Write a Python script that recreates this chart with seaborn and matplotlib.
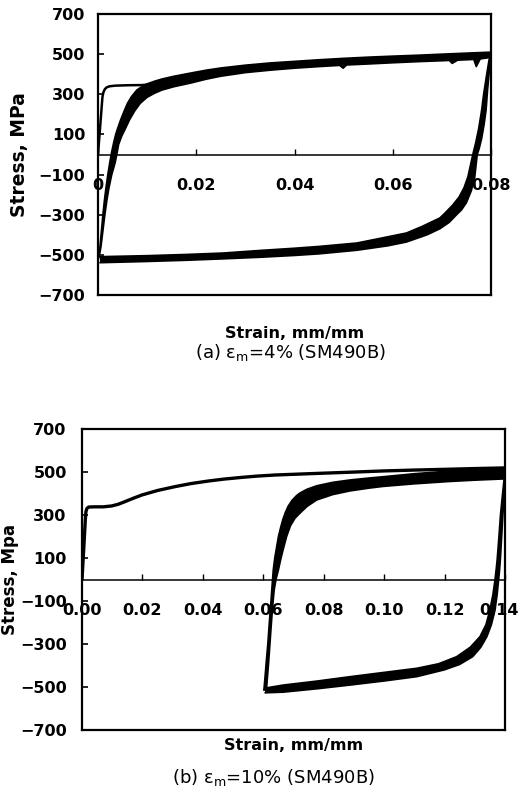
import numpy as np
import pandas as pd
import matplotlib
matplotlib.use("Agg")
import matplotlib.pyplot as plt
import matplotlib.transforms as mtransforms
import seaborn as sns

# ------------------------------------------------------------------
# Panel (a): eps_m = 4 %  (SM490B)
# ------------------------------------------------------------------
a_mono_strain = [0.0000, 0.0003, 0.0006, 0.0009, 0.0011, 0.0014, 0.0018, 0.0024, 0.0035,
                 0.0060, 0.0090, 0.0110]
a_mono_stress = [0, 95, 190, 285, 310, 326, 335, 340, 343,
                 345, 346, 350]

# loading branch (compression end -> tension end), two edges of the cycle band
a_up_outer_strain = [0.0000, 0.0002, 0.0004, 0.0007, 0.0010, 0.0013, 0.0016, 0.0020, 0.0024,
                     0.0028, 0.0032, 0.0036, 0.0040, 0.0046, 0.0053, 0.0060, 0.0068, 0.0079,
                     0.0090, 0.0100, 0.0115, 0.0130, 0.0155, 0.0187, 0.0220, 0.0250, 0.0300,
                     0.0350, 0.0400, 0.0450, 0.0500, 0.0550, 0.0600, 0.0655, 0.0720, 0.0800]
a_up_outer_stress = [-530, -500, -460, -380, -300, -230, -170, -100, -40,
                     15, 60, 100, 130, 172, 215, 255, 288, 321,
                     340, 352, 365, 376, 390, 405, 420, 431, 445,
                     456, 464, 472, 479, 485, 490, 495, 502, 510]
a_up_inner_strain = [0.0800, 0.0778, 0.0770, 0.0765, 0.0760, 0.0732, 0.0721, 0.0715, 0.0710,
                     0.0655, 0.0600, 0.0550, 0.0506, 0.0499, 0.0492, 0.0450, 0.0400, 0.0350,
                     0.0300, 0.0250, 0.0220, 0.0187, 0.0155, 0.0130, 0.0115, 0.0100, 0.0086,
                     0.0075, 0.0064, 0.0055, 0.0048, 0.0042, 0.0039, 0.0035, 0.0028, 0.0022,
                     0.0018, 0.0014, 0.0010, 0.0006, 0.0003, 0.0000]
a_up_inner_stress = [484, 476, 438, 474, 473, 470, 454, 469, 468,
                     463, 457, 451, 446, 430, 444, 438, 430, 420,
                     408, 390, 375, 355, 338, 321, 305, 285, 255,
                     218, 172, 125, 90, 50, 10, -40, -100, -170,
                     -230, -300, -380, -460, -500, -522]

# unloading branch (tension end -> compression end)
a_dn_outer_strain = [0.0800, 0.0799, 0.0796, 0.0793, 0.0790, 0.0786, 0.0781, 0.0776, 0.0772,
                     0.0767, 0.0760, 0.0750, 0.0740, 0.0730, 0.0715, 0.0696, 0.0670, 0.0628,
                     0.0590, 0.0527, 0.0450, 0.0400, 0.0330, 0.0254, 0.0180, 0.0100, 0.0004]
a_dn_outer_stress = [505, 470, 400, 320, 222, 150, 80, 30, 0,
                     -111, -180, -240, -276, -300, -338, -370, -400, -436,
                     -455, -477, -495, -503, -512, -520, -527, -533, -539]
a_dn_inner_strain = [0.0004, 0.0100, 0.0180, 0.0254, 0.0330, 0.0400, 0.0450, 0.0527, 0.0590,
                     0.0628, 0.0660, 0.0696, 0.0705, 0.0722, 0.0735, 0.0745, 0.0753, 0.0758,
                     0.0763, 0.0769, 0.0775, 0.0781, 0.0785, 0.0790, 0.0796, 0.0800]
a_dn_inner_stress = [-509, -504, -498, -491, -478, -467, -458, -441, -410,
                     -391, -358, -316, -295, -252, -212, -166, -111, -55,
                     0, 60, 130, 222, 300, 380, 471, 505]

a_xticks = [0.0, 0.02, 0.04, 0.06, 0.08]
a_xticklabels = ["0", "0.02", "0.04", "0.06", "0.08"]

# ------------------------------------------------------------------
# Panel (b): eps_m = 10 %  (SM490B)
# ------------------------------------------------------------------
b_mono_strain = [0.0000, 0.0004, 0.0008, 0.0011, 0.0013, 0.0016, 0.0022, 0.0040, 0.0070,
                 0.0098, 0.0120, 0.0142, 0.0170, 0.0198, 0.0250, 0.0308, 0.0360, 0.0418,
                 0.0470, 0.0529, 0.0580, 0.0639, 0.0750, 0.0887, 0.1000, 0.1100, 0.1218,
                 0.1300, 0.1400]
b_mono_stress = [0, 100, 200, 280, 315, 330, 337, 338, 338,
                 342, 350, 362, 378, 393, 414, 432, 446, 458,
                 467, 475, 481, 486, 492, 499, 505, 509, 513,
                 516, 519]

b_up_outer_strain = [0.0602, 0.0606, 0.0610, 0.0615, 0.0620, 0.0625, 0.0628, 0.0633, 0.0638,
                     0.0644, 0.0650, 0.0658, 0.0665, 0.0672, 0.0682, 0.0695, 0.0710, 0.0721,
                     0.0745, 0.0777, 0.0830, 0.0887, 0.0950, 0.0997, 0.1100, 0.1218, 0.1300,
                     0.1400]
b_up_outer_stress = [-515, -450, -380, -300, -200, -110, -50, 44, 100,
                     150, 199, 245, 280, 308, 340, 368, 390, 402,
                     420, 436, 452, 463, 472, 478, 492, 505, 512,
                     518]
b_up_inner_strain = [0.1400, 0.1300, 0.1218, 0.1100, 0.0997, 0.0950, 0.0887, 0.0830, 0.0777,
                     0.0745, 0.0721, 0.0705, 0.0690, 0.0677, 0.0665, 0.0658, 0.0650, 0.0642,
                     0.0636, 0.0632, 0.0627, 0.0622, 0.0618, 0.0614, 0.0610]
b_up_inner_stress = [468, 462, 456, 445, 433, 425, 412, 395, 370,
                     340, 308, 285, 250, 199, 135, 95, 44, 0,
                     -50, -110, -200, -300, -380, -450, -522]

b_dn_outer_strain = [0.1400, 0.1397, 0.1393, 0.1389, 0.1385, 0.1382, 0.1379, 0.1374, 0.1367,
                     0.1355, 0.1340, 0.1320, 0.1293, 0.1250, 0.1200, 0.1108, 0.1000, 0.0887,
                     0.0780, 0.0666, 0.0606]
b_dn_outer_stress = [505, 400, 300, 200, 100, 44, 0, -70, -142,
                     -210, -266, -315, -359, -395, -420, -452, -472, -491,
                     -508, -524, -527]
b_dn_inner_strain = [0.0606, 0.0666, 0.0780, 0.0887, 0.1000, 0.1108, 0.1180, 0.1240, 0.1285,
                     0.1317, 0.1337, 0.1350, 0.1360, 0.1367, 0.1371, 0.1374, 0.1380, 0.1385,
                     0.1392, 0.1400]
b_dn_inner_stress = [-505, -491, -472, -452, -432, -413, -392, -359, -315,
                     -266, -210, -142, -70, 0, 50, 91, 200, 300,
                     400, 505]

b_xticks = [0.0, 0.02, 0.04, 0.06, 0.08, 0.10, 0.12, 0.14]
b_xticklabels = ["0.00", "0.02", "0.04", "0.06", "0.08", "0.10", "0.12", "0.14"]

yticks = [700, 500, 300, 100, -100, -300, -500, -700]
yticklabels = ["700", "500", "300", "100", "\u2212100", "\u2212300", "\u2212500", "\u2212700"]

# ------------------------------------------------------------------
sns.set_theme(style="white")
plt.rcParams['font.family'] = ['DejaVu Sans']
plt.rcParams['mathtext.fontset'] = 'dejavusans'
plt.rcParams['text.color'] = 'black'
plt.rcParams['axes.labelcolor'] = 'black'
plt.rcParams['xtick.color'] = 'black'
plt.rcParams['ytick.color'] = 'black'
plt.rcParams['axes.edgecolor'] = 'black'

fig = plt.figure(figsize=(5.22, 7.93), dpi=100)
ax1 = fig.add_axes([98 / 522, 1 - 295 / 793, 393 / 522, 281 / 793])
ax2 = fig.add_axes([82 / 522, 1 - 730 / 793, 423 / 522, 301 / 793])


def band(ax, s1, y1, s2, y2, lw):
    xs = list(s1) + list(s2)
    ys = list(y1) + list(y2)
    ax.fill(xs, ys, color='black', lw=0)
    sns.lineplot(x=s1, y=y1, ax=ax, color='black', lw=lw, sort=False, estimator=None)
    sns.lineplot(x=s2, y=y2, ax=ax, color='black', lw=lw, sort=False, estimator=None)


def panel(ax, mono_s, mono_y, mono_lw, up_o, up_oy, up_i, up_iy, dn_o, dn_oy, dn_i, dn_iy,
          xmax, xticks, xticklabels, ylabel, ylab_size, ylab_x, tick_pad_y, xlab_pad,
          last_shift):
    sns.lineplot(x=mono_s, y=mono_y, ax=ax, color='black', lw=mono_lw, sort=False, estimator=None)
    band(ax, up_o, up_oy, up_i, up_iy, 1.2)
    band(ax, dn_o, dn_oy, dn_i, dn_iy, 1.2)

    ax.set_xlim(0, xmax)
    ax.set_ylim(-700, 700)
    ax.set_yticks(yticks, labels=yticklabels)
    ax.tick_params(axis='y', direction='in', length=4, width=1.2, pad=tick_pad_y,
                   labelsize=11.5, left=True)
    for t in ax.get_yticklabels():
        t.set_fontweight('bold')
    ax.tick_params(axis='x', bottom=False, labelbottom=False)
    for sp in ax.spines.values():
        sp.set_visible(True)
        sp.set_linewidth(1.6)
        sp.set_color('black')

    sec = ax.secondary_xaxis(0.5)
    sec.set_alignment('bottom')
    sec.set_xticks(xticks, labels=xticklabels)
    sec.tick_params(axis='x', direction='in', length=4, width=1.0, pad=17, labelsize=11.5)
    sec.spines['bottom'].set_linewidth(1.1)
    sec.spines['bottom'].set_color('black')
    labels = sec.get_xticklabels()
    for t in labels:
        t.set_fontweight('bold')
    if last_shift:
        off = mtransforms.ScaledTranslation(last_shift / 72, 0, fig.dpi_scale_trans)
        labels[-1].set_transform(labels[-1].get_transform() + off)

    ax.set_xlabel("Strain, mm/mm", fontsize=11.5, fontweight='bold', labelpad=xlab_pad)
    ax.set_ylabel(ylabel, fontsize=ylab_size, fontweight='bold')
    ax.yaxis.set_label_coords(ylab_x, 0.5)


panel(ax1, a_mono_strain, a_mono_stress, 1.8,
      a_up_outer_strain, a_up_outer_stress, a_up_inner_strain, a_up_inner_stress,
      a_dn_outer_strain, a_dn_outer_stress, a_dn_inner_strain, a_dn_inner_stress,
      0.08, a_xticks, a_xticklabels, "Stress, MPa", 13.5, -0.175, 9, 22, 0)
panel(ax2, b_mono_strain, b_mono_stress, 2.4,
      b_up_outer_strain, b_up_outer_stress, b_up_inner_strain, b_up_inner_stress,
      b_dn_outer_strain, b_dn_outer_stress, b_dn_inner_strain, b_dn_inner_stress,
      0.14, b_xticks, b_xticklabels, "Stress, Mpa", 12, -0.148, 11, 6, -4)

fig.text(290 / 522, 1 - 352 / 793, "(a) \u03b5$_\\mathrm{m}$=4% (SM490B)",
         ha='center', va='center', fontsize=13)
fig.text(273 / 522, 1 - 778 / 793, "(b) \u03b5$_\\mathrm{m}$=10% (SM490B)",
         ha='center', va='center', fontsize=13)

fig.savefig("out.png", dpi=100)
